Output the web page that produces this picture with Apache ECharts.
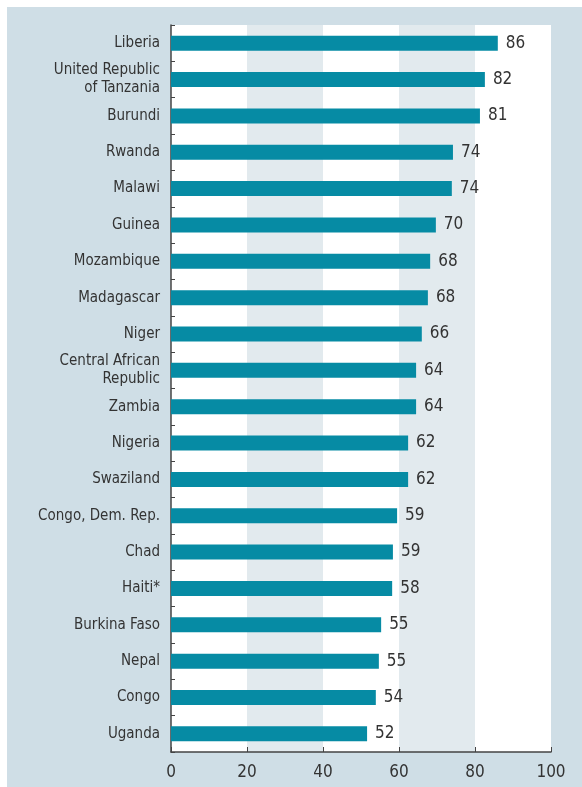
<!DOCTYPE html>
<html>
<head>
<meta charset="utf-8">
<script src="https://cdn.jsdelivr.net/npm/echarts@6/dist/echarts.min.js"></script>
<style>
  html, body { margin: 0; padding: 0; background: #ffffff; }
  #main { position: absolute; left: 7px; top: 7px; width: 575px; height: 780px; background: #cfdee6; }
</style>
</head>
<body>
<div id="main"></div>
<script>
// countries, top to bottom as shown
const countries = [
  'Liberia', 'United Republic\nof Tanzania', 'Burundi', 'Rwanda', 'Malawi',
  'Guinea', 'Mozambique', 'Madagascar', 'Niger', 'Central African\nRepublic',
  'Zambia', 'Nigeria', 'Swaziland', 'Congo, Dem. Rep.', 'Chad',
  'Haiti*', 'Burkina Faso', 'Nepal', 'Congo', 'Uganda'
]
// bar lengths
const values = [86, 82.6, 81.3, 74.2, 73.9, 69.7, 68.2, 67.6, 66, 64.5,
  64.5, 62.4, 62.4, 59.5, 58.4, 58.2, 55.3, 54.7, 53.9, 51.6]
// printed value labels
const labels = [86, 82, 81, 74, 74, 70, 68, 68, 66, 64,
  64, 62, 62, 59, 59, 58, 55, 55, 54, 52]
const xTicks = [0, 20, 40, 60, 80, 100]

const font = "'Liberation Sans Narrow', 'DejaVu Sans Condensed', sans-serif"

const chart = echarts.init(document.getElementById('main'), null, { renderer: 'canvas' })
chart.setOption({
  animation: false,
  grid: { left: 164, right: 31, top: 18, bottom: 35, containLabel: false },
  xAxis: {
    type: 'value',
    min: xTicks[0],
    max: xTicks[xTicks.length - 1],
    interval: 20,
    axisLine: { show: true, lineStyle: { color: '#444', width: 1.5 } },
    axisTick: { show: true, inside: true, length: 5, lineStyle: { color: '#444' } },
    axisLabel: { color: '#333', fontSize: 17, fontFamily: font, margin: 12 },
    splitLine: { show: false },
    splitArea: { show: true, areaStyle: { color: ['#ffffff', '#e2eaee'] } }
  },
  yAxis: {
    type: 'category',
    inverse: true,
    data: countries,
    axisLine: { show: true, lineStyle: { color: '#444', width: 1.5 } },
    axisTick: { show: true, inside: true, length: 4, lineStyle: { color: '#444' } },
    axisLabel: { color: '#333', fontSize: 15, fontFamily: font, margin: 11, lineHeight: 18 },
    splitLine: { show: false }
  },
  series: [
    {
      type: 'bar',
      data: values,
      barWidth: 15,
      itemStyle: { color: '#068ba4' },
      label: {
        show: true,
        position: 'right',
        distance: 8,
        color: '#333',
        fontSize: 17,
        fontFamily: font,
        formatter: (p) => labels[p.dataIndex]
      }
    }
  ]
})
</script>
</body>
</html>
